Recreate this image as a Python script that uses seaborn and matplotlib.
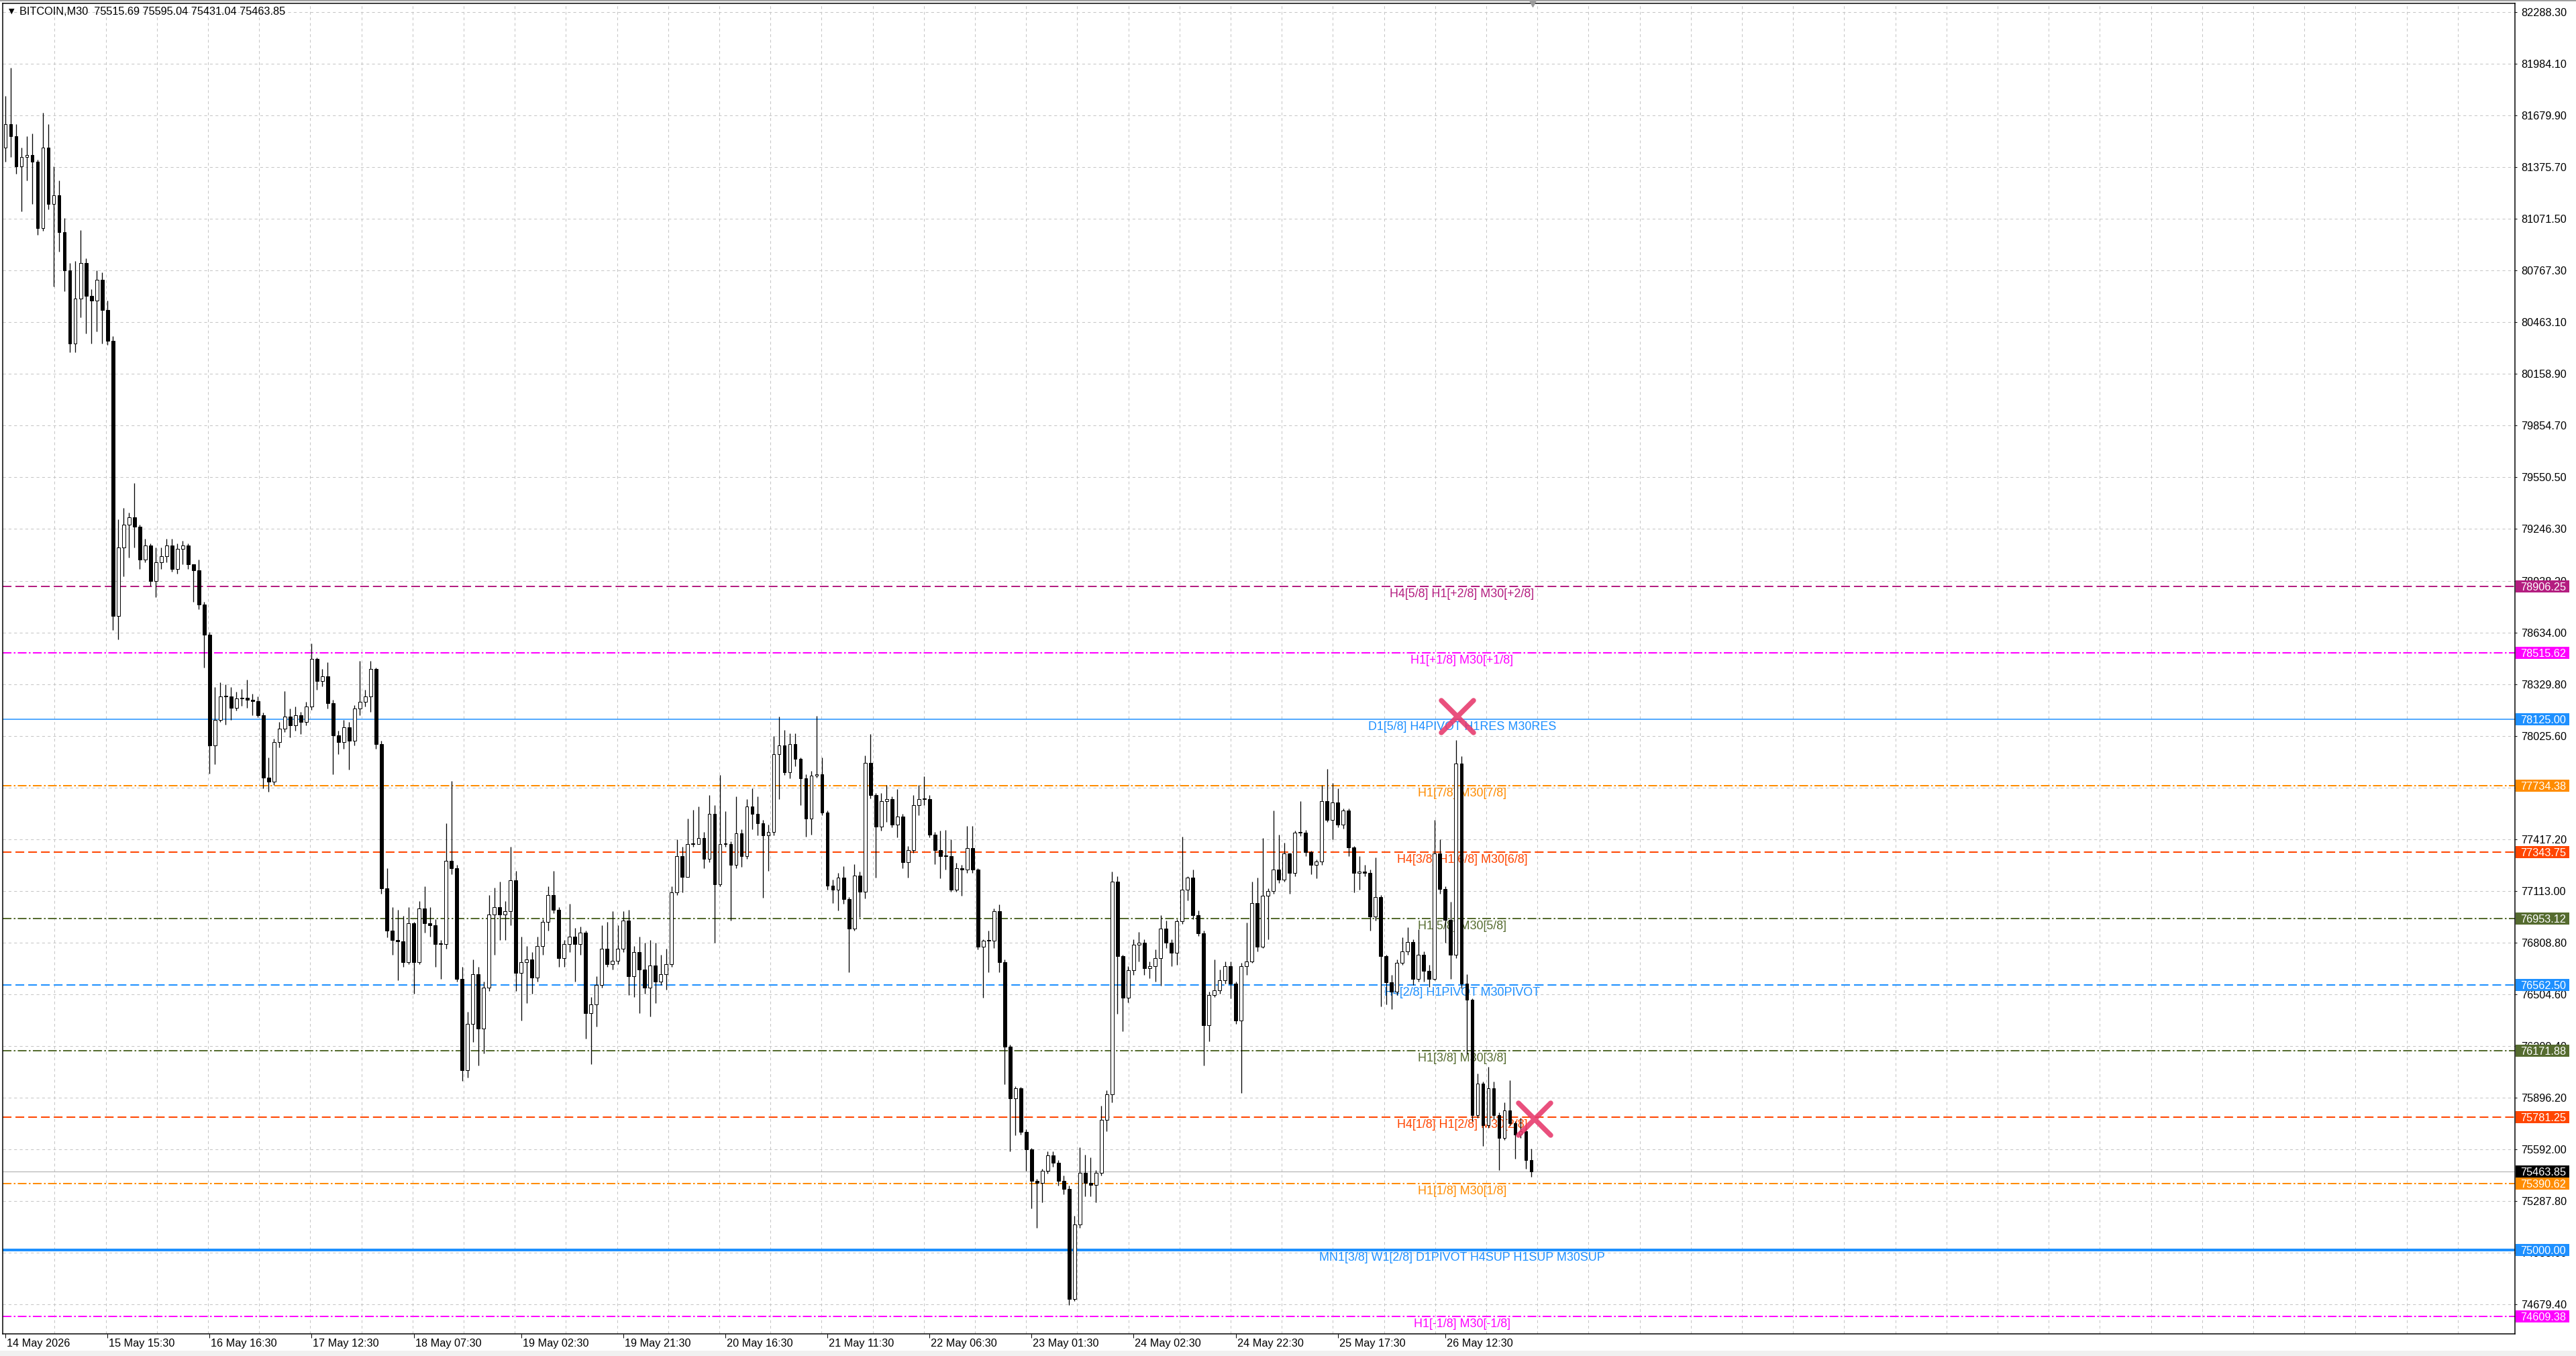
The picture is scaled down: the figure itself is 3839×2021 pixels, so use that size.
import numpy as np
import matplotlib
matplotlib.use("Agg")
import matplotlib.pyplot as plt
import matplotlib.transforms as mtransforms
from matplotlib.markers import MarkerStyle
from matplotlib.patches import Rectangle
import seaborn as sns

sns.set_theme(style="white")
plt.rcParams["font.family"] = ["Liberation Sans", "DejaVu Sans"]
plt.rcParams["lines.scale_dashes"] = False

# ---- data (H1 candles) ----
symbol = "BITCOIN,M30"
first_open = 81490
close_prices = [
    81629, 81560, 81380, 81435, 81449, 81407, 81019, 81491, 81158, 81213,
    80992, 80770, 80340, 80604, 80812, 80617, 80590, 80715, 80534, 80354,
    78733, 79135, 79273, 79315, 79259, 79065, 79148, 78941, 79051, 79085,
    79148, 79010, 79129, 79148, 79037, 79001, 78802, 78622, 77970, 78123,
    78261, 78261, 78192, 78247, 78253, 78242, 78234, 78150, 77780, 77760,
    77990, 78070, 78140, 78090, 78150, 78110, 78200, 78480, 78350, 78380,
    78220, 78030, 77990, 78080, 78000, 78190, 78230, 78260, 78420, 77980,
    77130, 76880, 76826, 76817, 76694, 76923, 76694, 77011, 76923, 76914,
    76800, 76800, 77293, 77249, 76597, 76059, 76332, 76623, 76306, 76544,
    76976, 77020, 76976, 76994, 77179, 76632, 76694, 76711, 76606, 76791,
    76932, 77091, 77002, 76720, 76800, 76844, 76800, 76870, 76394, 76447,
    76561, 76773, 76685, 76703, 76773, 76941, 76614, 76756, 76650, 76544,
    76676, 76579, 76623, 76685, 77108, 77320, 77196, 77390, 77390, 77426,
    77302, 77567, 77152, 77390, 77390, 77267, 77452, 77320, 77611, 77567,
    77514, 77443, 77461, 77920, 77972, 77814, 77981, 77893, 77778, 77540,
    77795, 77800, 77575, 77146, 77123, 77192, 77065, 76891, 77204, 77111,
    77869, 77679, 77494, 77644, 77656, 77505, 77552, 77285, 77355, 77621,
    77656, 77656, 77447, 77355, 77320, 77320, 77123, 77250, 77239, 77366,
    77239, 76787, 76821, 76821, 76995, 76694, 76196, 75894, 75952, 75697,
    75593, 75407, 75396, 75465, 75558, 75512, 75407, 75361, 74712, 75152,
    75454, 75396, 75384, 75454, 75767, 75917, 77169, 76729, 76485, 76648,
    76798, 76810, 76659, 76671, 76717, 76891, 76810, 76752, 76937, 77123,
    77192, 76972, 76867, 76323, 76502, 76531, 76587, 76672, 76568, 76351,
    76672, 76700, 77041, 76786, 77088, 77116, 77239, 77182, 77334, 77220,
    77456, 77456, 77343, 77267, 77286, 77645, 77532, 77636, 77504, 77589,
    77371, 77220, 77230, 77220, 76965, 77079, 76729, 76578, 76521, 76691,
    76757, 76814, 76597, 76738, 76644, 76597, 77334, 77126, 76946, 76738,
    77863, 76568, 76474, 75793, 75982, 75737, 75954, 75793, 75661, 75822,
    75746, 75680, 75699, 75529, 75463.85,
]
high_prices = [
    81796, 81962, 81629, 81491, 81560, 81574, 81420, 81698, 81629, 81380,
    81297, 81075, 80812, 80825, 81005, 80840, 80660, 80770, 80756, 80590,
    80382, 79301, 79370, 79342, 79517, 79273, 79190, 79162, 79135, 79135,
    79190, 79190, 79162, 79176, 79162, 79037, 79065, 78816, 78640, 78317,
    78344, 78331, 78317, 78289, 78303, 78358, 78275, 78261, 78165, 77900,
    78010, 78110, 78290, 78190, 78200, 78170, 78230, 78570, 78490, 78420,
    78460, 78240, 78060, 78120, 78110, 78210, 78470, 78300, 78470, 78430,
    78000, 77250, 77020, 77002, 76967, 77020, 76932, 77055, 77143, 77020,
    76950, 76826, 77514, 77761, 77267, 76667, 76403, 76711, 76667, 76579,
    77091, 77135, 77170, 77055, 77373, 77232, 76844, 76791, 76756, 76844,
    76950, 77143, 77232, 77020, 76826, 77038, 76897, 76905, 76879, 76491,
    76614, 76914, 76932, 76994, 76914, 76994, 77002, 76791, 76844, 76808,
    76826, 76808, 76738, 76773, 77143, 77417, 77373, 77540, 77593, 77611,
    77461, 77681, 77620, 77796, 77585, 77408, 77673, 77479, 77655, 77717,
    77673, 77532, 77505, 78025, 78140, 78061, 78043, 78043, 77902, 77800,
    77820, 78147, 77900, 77590, 77180, 77220, 77262, 77080, 77273, 77230,
    77911, 78039, 77690, 77691, 77737, 77670, 77714, 77570, 77380, 77679,
    77737, 77790, 77680, 77460, 77471, 77475, 77420, 77280, 77270, 77498,
    77498, 77250, 76830, 76879, 77010, 77035, 76710, 76210, 75965, 75960,
    75710, 75600, 75420, 75480, 75581, 75581, 75530, 75440, 75380, 75200,
    75604, 75560, 75546, 75470, 75848, 75940, 77227, 77200, 76740, 76670,
    76830, 76872, 76830, 76700, 76770, 76972, 76940, 76830, 76950, 77436,
    77200, 77240, 77000, 76880, 76520, 76710, 76650, 76700, 76700, 76580,
    76690, 76927, 77170, 77192, 77428, 77130, 77589, 77447, 77400, 77340,
    77470, 77645, 77475, 77350, 77300, 77740, 77834, 77749, 77720, 77600,
    77600, 77380, 77320, 77270, 77240, 77310, 77090, 76740, 76620, 76710,
    76840, 76899, 76830, 76890, 76760, 76680, 77532, 77419, 77140, 77050,
    78004, 77910, 76625, 76480, 76039, 75990, 76077, 75990, 75810, 75870,
    76001, 75760, 75780, 75720, 75595.04,
]
low_prices = [
    81407, 81435, 81338, 81116, 81297, 81158, 80978, 81000, 81130, 80673,
    80880, 80645, 80285, 80285, 80493, 80396, 80340, 80410, 80340, 80330,
    78650, 78594, 78968, 79079, 79135, 79010, 79051, 78913, 78843, 79010,
    79051, 78996, 78982, 79037, 79010, 78816, 78774, 78428, 77804, 77859,
    78109, 78095, 78123, 78178, 78206, 78192, 78150, 78137, 77720, 77700,
    77740, 77960, 78050, 78020, 78060, 78040, 78090, 78180, 78300, 78320,
    78190, 77800, 77920, 77950, 77830, 77970, 78150, 78200, 78170, 77950,
    77100, 76840, 76738, 76588, 76667, 76685, 76509, 76685, 76870, 76844,
    76667, 76597, 76773, 77214, 76579, 75997, 76015, 76226, 76085, 76156,
    76526, 76738, 76826, 76826, 76914, 76526, 76350, 76456, 76509, 76579,
    76738, 76879, 76985, 76667, 76667, 76756, 76579, 76738, 76244, 76094,
    76315, 76544, 76667, 76650, 76685, 76756, 76500, 76491, 76394, 76509,
    76376, 76456, 76561, 76535, 76667, 77091, 77108, 77196, 77373, 77390,
    77249, 77285, 76808, 77143, 77373, 76941, 77249, 77258, 77302, 77479,
    77443, 77073, 77232, 77443, 77655, 77796, 77778, 77849, 77620, 77436,
    77447, 77780, 77560, 77123, 77042, 77000, 77040, 76636, 76880, 76960,
    77070, 77660, 77192, 77470, 77520, 77490, 77430, 77250, 77192, 77340,
    77560, 77620, 77430, 77274, 77190, 77240, 77110, 77110, 77088, 77220,
    77220, 76770, 76485, 76636, 76780, 76636, 75975, 75581, 75674, 75680,
    75465, 75245, 75129, 75280, 75450, 75490, 75380, 75330, 74677, 74700,
    75130, 75315, 75315, 75280, 75440, 75700, 75870, 76392, 76288, 76460,
    76620, 76700, 76620, 76600, 76580, 76555, 76780, 76670, 76680, 76920,
    77060, 76950, 76850, 76086, 76228, 76490, 76510, 76570, 76483, 76330,
    75926, 76620, 76690, 76760, 76780, 76830, 77100, 77160, 77170, 77100,
    77200, 77440, 77320, 77211, 77190, 77270, 77520, 77420, 77490, 77480,
    77320, 77107, 77120, 77200, 76880, 76940, 76436, 76445, 76417, 76500,
    76680, 76740, 76560, 76580, 76580, 76550, 76590, 77100, 76810, 76597,
    76720, 76540, 76152, 75760, 75780, 75614, 75720, 75770, 75472, 75650,
    75730, 75538, 75660, 75480, 75431.04,
]
# header shows the last M30 bar
last_ohlc = [75515.69, 75595.04, 75431.04, 75463.85]
current_price = 75463.85

level_prices = [78906.25, 78515.62, 78125.00, 77734.38, 77343.75, 76953.12,
                76562.50, 76171.88, 75781.25, 75390.62, 75000.00, 74609.38]
level_labels = [
    "H4[5/8] H1[+2/8] M30[+2/8]",
    "H1[+1/8] M30[+1/8]",
    "D1[5/8] H4PIVOT H1RES M30RES",
    "H1[7/8] M30[7/8]",
    "H4[3/8] H1[6/8] M30[6/8]",
    "H1[5/8] M30[5/8]",
    "H4[2/8] H1PIVOT M30PIVOT",
    "H1[3/8] M30[3/8]",
    "H4[1/8] H1[2/8] M30[2/8]",
    "H1[1/8] M30[1/8]",
    "MN1[3/8] W1[2/8] D1PIVOT H4SUP H1SUP M30SUP",
    "H1[-1/8] M30[-1/8]",
]
level_colors = ["#B41E80", "#FF00FF", "#1E90FF", "#FF8C00", "#FF4500", "#556B2F",
                "#1E90FF", "#556B2F", "#FF4500", "#FF8C00", "#1E90FF", "#FF00FF"]
level_kinds = ["dash", "dashdot", "solid", "dashdot", "dash", "dashdot",
               "dash", "dashdot", "dash", "dashdot", "thick", "dashdot"]

price_ticks = [82288.30, 81984.10, 81679.90, 81375.70, 81071.50, 80767.30, 80463.10,
               80158.90, 79854.70, 79550.50, 79246.30, 78938.20, 78634.00, 78329.80,
               78025.60, 77721.40, 77417.20, 77113.00, 76808.80, 76504.60, 76200.40,
               75896.20, 75592.00, 75287.80, 74983.60, 74679.40]

time_tick_bars = [0, 19, 38, 57, 76, 96, 115, 134, 153, 172, 191, 210, 229, 248, 268]
time_tick_labels = ["14 May 2026", "15 May 15:30", "16 May 16:30", "17 May 12:30",
                    "18 May 07:30", "19 May 02:30", "19 May 21:30", "20 May 16:30",
                    "21 May 11:30", "22 May 06:30", "23 May 01:30", "24 May 02:30",
                    "24 May 22:30", "25 May 17:30", "26 May 12:30"]

cross_bars = [270.3, 284.6]
cross_prices = [78143, 75770]

# ---- frame ----
W, H = 3839, 2021
px = 0.72  # points per pixel at dpi 100
fig = plt.figure(figsize=(W / 100, H / 100), dpi=100, facecolor="white")
ax = fig.add_axes([4 / W, (H - 1988) / H, 3744 / W, (1988 - 5) / H])
ax.set_facecolor("white")

n = len(close_prices)
bars = np.arange(n)
opens = np.array([first_open] + close_prices[:-1], dtype=float)
closes = np.array(close_prices, dtype=float)
highs = np.maximum(np.array(high_prices, dtype=float), np.maximum(opens, closes))
lows = np.minimum(np.array(low_prices, dtype=float), np.minimum(opens, closes))

bar_px = (2282 - 8) / (n - 1)
ax.set_xlim((4 - 8) / bar_px, (3748 - 8) / bar_px)
ax.set_ylim(74506.4, 82341.2)

# grid
ax.set_yticks(price_ticks)
ax.set_yticklabels([f"{v:.2f}" for v in price_ticks])
ax.yaxis.tick_right()
grid_x = (np.arange(1, 49) * 76.2 + 5.2 - 8) / bar_px
ax.set_xticks(grid_x, minor=True)
ax.set_xticks(time_tick_bars)
ax.set_xticklabels(time_tick_labels)
ax.grid(False)
ax.grid(which="major", axis="y", color="#C4C4C4", ls=(0, (3, 3)), lw=px, zorder=0)
ax.grid(which="minor", axis="x", color="#C4C4C4", ls=(0, (3, 3)), lw=px, zorder=0)
ax.set_axisbelow(True)

ax.tick_params(axis="y", which="major", length=2.5, width=px, pad=4,
               labelsize=11.7, colors="black", right=True, left=False)
ax.tick_params(axis="x", which="major", length=4, width=px, pad=1,
               labelsize=11.7, colors="black", bottom=True)
ax.tick_params(axis="x", which="minor", length=0)
shift = mtransforms.ScaledTranslation(2 / 100, 0, fig.dpi_scale_trans)
for lbl in ax.get_xticklabels():
    lbl.set_horizontalalignment("left")
    lbl.set_transform(lbl.get_transform() + shift)
for sp in ax.spines.values():
    sp.set_color("black")
    sp.set_linewidth(1.5 * px)

# level lines
styles = {
    "dash": dict(ls=(0, (9.4, 4.3)), lw=2 * px),
    "dashdot": dict(ls=(0, (9.4, 2.5, 1.8, 2.5)), lw=2 * px),
    "solid": dict(ls="-", lw=1.5 * px),
    "thick": dict(ls="-", lw=4 * px),
}
below = mtransforms.offset_copy(ax.transData, fig=fig, x=0, y=-3, units="dots")
label_bar = (2179 - 8) / bar_px
for price, text, color, kind in zip(level_prices, level_labels, level_colors, level_kinds):
    ax.axhline(price, color=color, zorder=1, **styles[kind])
    ax.text(label_bar, price, text, color=color, fontsize=12.9, ha="center",
            va="top", transform=below, zorder=2)
ax.axhline(current_price, color="#B4B4B4", lw=1.2 * px, zorder=1)

# candles
ax.vlines(bars, lows, highs, color="black", lw=1.3 * px, zorder=3)
bull = closes >= opens
body_low = np.minimum(opens, closes)
body_h = np.maximum(np.abs(closes - opens), 4)
ax.bar(bars, body_h, bottom=body_low, width=0.6,
       color=np.where(bull, "white", "black"), edgecolor="black",
       linewidth=1 * px, zorder=4)

# crosses
cross = MarkerStyle("x", capstyle="round")
ax.plot(cross_bars, cross_prices, ls="none", marker=cross, ms=34.5, mew=5.4,
        color="#E6386B", alpha=0.88, zorder=6, clip_on=False)

# price boxes on the right scale
box_tr = mtransforms.blended_transform_factory(ax.transAxes, ax.transData)
half = 9 * 3.951
box_x = 1 + 1 / 3744
box_w = 80 / 3744
for price, color in list(zip(level_prices, level_colors)) + [(current_price, "black")]:
    ax.add_patch(Rectangle((box_x, price - half), box_w, 2 * half, transform=box_tr,
                           facecolor=color, edgecolor="none", clip_on=False, zorder=7))
    ax.text(box_x + 7 / 3744, price, f"{price:.2f}", transform=box_tr, color="white",
            fontsize=11.7, ha="left", va="center_baseline", clip_on=False, zorder=8)

# chart-shift marker at the top border
top_tr = mtransforms.blended_transform_factory(ax.transData, ax.transAxes)
ax.plot([(2284 - 8) / bar_px], [1.0], marker="v", ms=7, color="#9A9A9A",
        transform=top_tr, clip_on=False, zorder=9)

# header
fig.text(13 / W, 1 - 17 / H, "\u25bc", fontsize=8, color="black", va="center",
         family=["DejaVu Sans"])
header = symbol + "  " + " ".join(f"{v:.2f}" for v in last_ohlc)
fig.text(29 / W, 1 - 17 / H, header, fontsize=11.7, color="black", va="center")

# window chrome
fig.patches.append(Rectangle((0, 1 - 2 / H), 1, 2 / H, transform=fig.transFigure,
                             facecolor="#A0A0A0", edgecolor="none"))
fig.patches.append(Rectangle((0, 0), 1, 8 / H, transform=fig.transFigure,
                             facecolor="#F0F0F0", edgecolor="none"))

fig.savefig("out.png", dpi=100)
